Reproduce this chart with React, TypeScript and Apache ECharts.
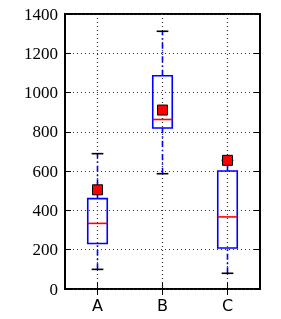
import React, { useEffect, useRef } from "react";
import * as echarts from "echarts";

const categories = ["A", "B", "C"];
const whiskerLow = [100, 587, 80];
const q1 = [232, 820, 209];
const median = [334, 863, 367];
const q3 = [460, 1086, 601];
const whiskerHigh = [689, 1312, 655];
const means = [505, 911, 655];
const yTicks = [0, 200, 400, 600, 800, 1000, 1200, 1400];

export default function App() {
  const ref = useRef<HTMLDivElement>(null);
  useEffect(() => {
    if (!ref.current) return;
    const chart = echarts.init(ref.current, null, { renderer: "svg" });
    const data = categories.map((_, i) => [i, whiskerLow[i], q1[i], median[i], q3[i], whiskerHigh[i], means[i]]);
    const yMin = yTicks[0];
    const yMax = yTicks[yTicks.length - 1];
    const yInterval = yTicks[1] - yTicks[0];
    chart.setOption({
      animation: false,
      textStyle: { fontFamily: "Liberation Serif" },
      grid: {
        left: 65, top: 14, width: 195, height: 275,
        show: true, borderColor: "#000", borderWidth: 2, backgroundColor: "transparent",
      },
      xAxis: [
        {
          type: "category", data: categories, position: "bottom",
          axisLine: { show: false },
          axisTick: { show: true, inside: true, alignWithLabel: true, length: 6, lineStyle: { color: "#000", width: 1 } },
          axisLabel: { color: "#000", fontFamily: "DejaVu Sans", fontSize: 16, margin: 8 },
          splitLine: { show: false },
        },
        {
          type: "category", data: categories, position: "top",
          axisLine: { show: false },
          axisTick: { show: true, inside: true, alignWithLabel: true, length: 6, lineStyle: { color: "#000", width: 1 } },
          axisLabel: { show: false },
          splitLine: { show: false },
        },
      ],
      yAxis: [
        {
          type: "value", min: yMin, max: yMax, interval: yInterval, position: "left",
          axisLine: { show: false },
          axisTick: { show: true, inside: true, length: 6, lineStyle: { color: "#000", width: 1 } },
          axisLabel: {
            color: "#000", fontFamily: "Liberation Serif", fontSize: 17, margin: 7,
            formatter: (v: number) => String(v),
          },
          splitLine: { show: true, lineStyle: { color: "#333", width: 1.2, type: [1, 3] } },
        },
        {
          type: "value", min: yMin, max: yMax, interval: yInterval, position: "right",
          axisLine: { show: false },
          axisTick: { show: true, inside: true, length: 6, lineStyle: { color: "#000", width: 1 } },
          axisLabel: { show: false },
          splitLine: { show: false },
        },
      ],
      series: [
        {
          type: "custom",
          xAxisIndex: 0,
          yAxisIndex: 0,
          encode: { x: 0, y: [1, 2, 3, 4, 5, 6] },
          data,
          renderItem: (params: any, api: any) => {
            const x = api.value(0);
            const band = api.size([1, 0])[0];
            const half = band * 0.15;
            const capHalf = band * 0.09;
            const pLow = api.coord([x, api.value(1)]);
            const pQ1 = api.coord([x, api.value(2)]);
            const pMed = api.coord([x, api.value(3)]);
            const pQ3 = api.coord([x, api.value(4)]);
            const pHigh = api.coord([x, api.value(5)]);
            const pMean = api.coord([x, api.value(6)]);
            const top = api.coord([x, yMax]);
            const bottom = api.coord([x, yMin]);
            const cx = pMed[0];
            const dash = [6, 3, 1.5, 3];
            const ms = 10;
            return {
              type: "group",
              children: [
                {
                  type: "line",
                  shape: { x1: cx, y1: top[1], x2: cx, y2: bottom[1] },
                  style: { stroke: "#333", lineWidth: 1.2, lineDash: [1, 3] },
                },
                {
                  type: "line",
                  shape: { x1: cx, y1: pQ3[1], x2: cx, y2: pHigh[1] },
                  style: { stroke: "#0000ff", lineWidth: 1.6, lineDash: dash },
                },
                {
                  type: "line",
                  shape: { x1: cx, y1: pLow[1], x2: cx, y2: pQ1[1] },
                  style: { stroke: "#0000ff", lineWidth: 1.6, lineDash: dash },
                },
                {
                  type: "rect",
                  shape: { x: cx - half, y: pQ3[1], width: half * 2, height: pQ1[1] - pQ3[1] },
                  style: { fill: "none", stroke: "#0000ff", lineWidth: 1.6 },
                },
                {
                  type: "line",
                  shape: { x1: cx - half, y1: pMed[1], x2: cx + half, y2: pMed[1] },
                  style: { stroke: "#ff0000", lineWidth: 1.6 },
                },
                {
                  type: "line",
                  shape: { x1: cx - capHalf, y1: pHigh[1], x2: cx + capHalf, y2: pHigh[1] },
                  style: { stroke: "#000", lineWidth: 1.6 },
                },
                {
                  type: "line",
                  shape: { x1: cx - capHalf, y1: pLow[1], x2: cx + capHalf, y2: pLow[1] },
                  style: { stroke: "#000", lineWidth: 1.6 },
                },
                {
                  type: "rect",
                  shape: { x: cx - ms / 2, y: pMean[1] - ms / 2, width: ms, height: ms },
                  style: { fill: "#ff0000", stroke: "#000", lineWidth: 1 },
                },
              ],
            };
          },
        },
      ],
    });
    return () => chart.dispose();
  }, []);
  return <div ref={ref} style={{ position: "fixed", left: 0, top: 0, width: 281, height: 319 }} />;
}
